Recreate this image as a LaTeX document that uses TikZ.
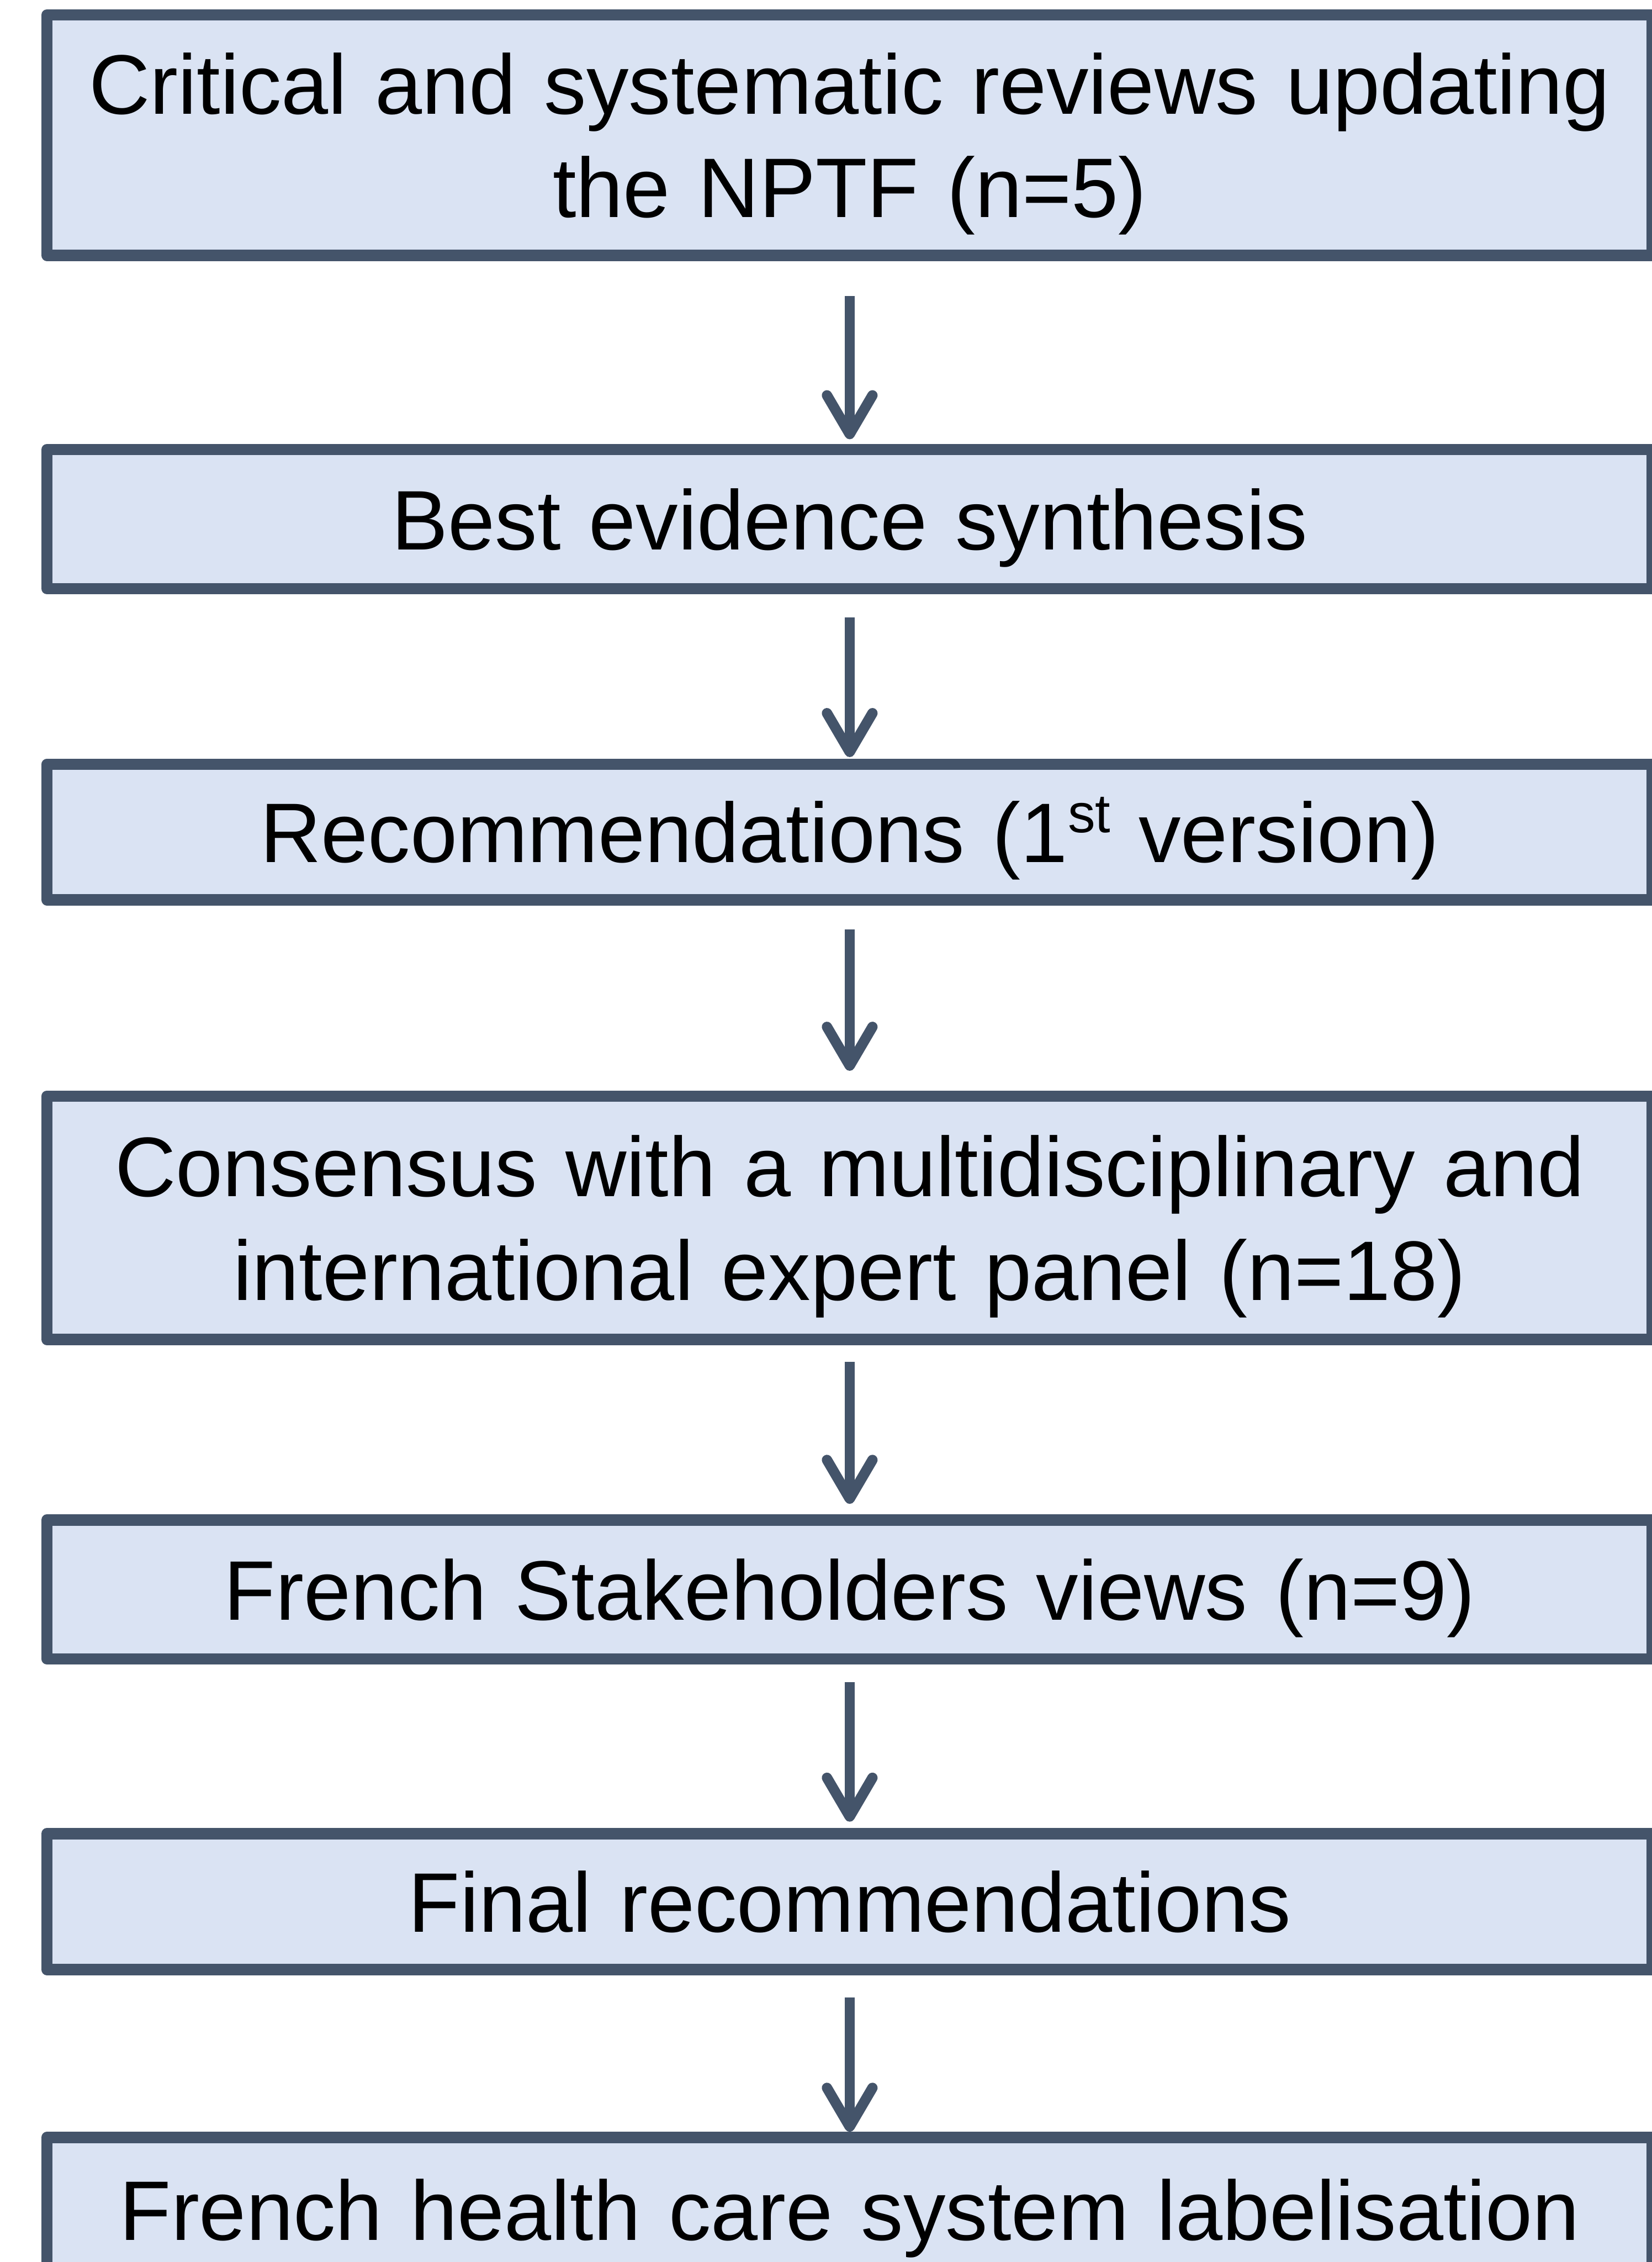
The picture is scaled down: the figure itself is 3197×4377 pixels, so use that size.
\documentclass[tikz,border=0pt]{standalone}
\usepackage{fontspec}
\setmainfont{Liberation Sans}
\usetikzlibrary{arrows.meta}
\definecolor{boxfill}{RGB}{218,227,243}
\definecolor{boxline}{RGB}{68,84,106}
\newcommand{\supst}{\raisebox{58pt}{\fontsize{106}{106}\selectfont st}}
\begin{document}
\begin{tikzpicture}[x=1pt,y=-1pt,
  flowbox/.style={draw=boxline, fill=boxfill, line width=22pt, line join=round,
    minimum width=3107pt, inner sep=0pt, outer sep=11pt,
    text width=3080pt, align=center,
    font=\fontsize{163.5}{200}\selectfont, text height=118pt, text depth=0pt},
  twoline/.style={text depth=200pt},
  flowarrow/.style={draw=boxline, line width=20pt,
    -{Straight Barb[length=75pt,width=88pt,round]}}]
\useasboundingbox (0,0) rectangle (3197,4377);
\node[flowbox, twoline, minimum height=465pt] (b1) at (1644.5,261.5)
  {Critical and systematic reviews updating\\the NPTF (n=5)};
\node[flowbox, minimum height=269pt] (b2) at (1644.5,1004.5)
  {Best evidence synthesis};
\node[flowbox, minimum height=262pt] (b3) at (1644.5,1610)
  {Recommendations (1\supst{} version)};
\node[flowbox, twoline, minimum height=471pt] (b4) at (1644.5,2356.5)
  {Consensus with a multidisciplinary and\\international expert panel (n=18)};
\node[flowbox, minimum height=269pt] (b5) at (1644.5,3075.5)
  {French Stakeholders views (n=9)};
\node[flowbox, minimum height=263pt] (b6) at (1644.5,3679.5)
  {Final recommendations};
\node[flowbox, minimum height=280pt] (b7) at (1644.5,4276)
  {French health care system labelisation};
\draw[flowarrow] ([yshift=-68pt]b1.south) -- ([yshift=9pt]b2.north);
\draw[flowarrow] ([yshift=-45pt]b2.south) -- ([yshift=3pt]b3.north);
\draw[flowarrow] ([yshift=-46pt]b3.south) -- ([yshift=38pt]b4.north);
\draw[flowarrow] ([yshift=-32pt]b4.south) -- ([yshift=20pt]b5.north);
\draw[flowarrow] ([yshift=-34pt]b5.south) -- ([yshift=12pt]b6.north);
\draw[flowarrow] ([yshift=-43pt]b6.south) -- ([yshift=0pt]b7.north);
\end{tikzpicture}
\end{document}
